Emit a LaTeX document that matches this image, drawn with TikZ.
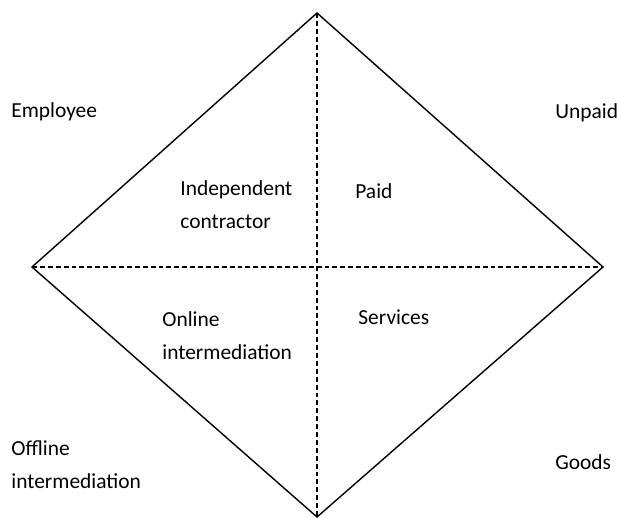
\documentclass[tikz,border=0pt]{standalone}
\usepackage{fontspec}
\setmainfont{Carlito}
\usetikzlibrary{positioning}

\begin{document}
\begin{tikzpicture}[x=0.02cm,y=0.02cm,
  lbl/.style={inner sep=0pt,anchor=west,align=left,font=\fontsize{12.2}{18.7}\selectfont},
  edge/.style={line width=0.8pt},
  axis/.style={line width=0.6pt,dash pattern=on 2.8pt off 1.7pt}]
\useasboundingbox (0,0) rectangle (617,517);
\coordinate (top) at (317,504);
\coordinate (left) at (32,250);
\coordinate (right) at (603,250);
\coordinate (bottom) at (317,0);

\draw[edge] (top) -- (right) -- (bottom) -- (left) -- cycle;
\draw[axis] (top) -- (bottom);
\draw[axis] (left) -- (right);

\node[lbl] at (11,405) (employee) {Employee};
\node[lbl] at (555,404) (unpaid) {Unpaid};
\node[lbl] at (180,312.5) (indep) {Independent\\contractor};
\node[lbl] at (355,326) (paid) {Paid};
\node[lbl] at (162,181.5) (online) {Online\\intermediation};
\node[lbl] at (358,200) (services) {Services};
\node[lbl] at (11,52) (offline) {Offline\\intermediation};
\node[lbl] at (555,55) (goods) {Goods};
\end{tikzpicture}
\end{document}
